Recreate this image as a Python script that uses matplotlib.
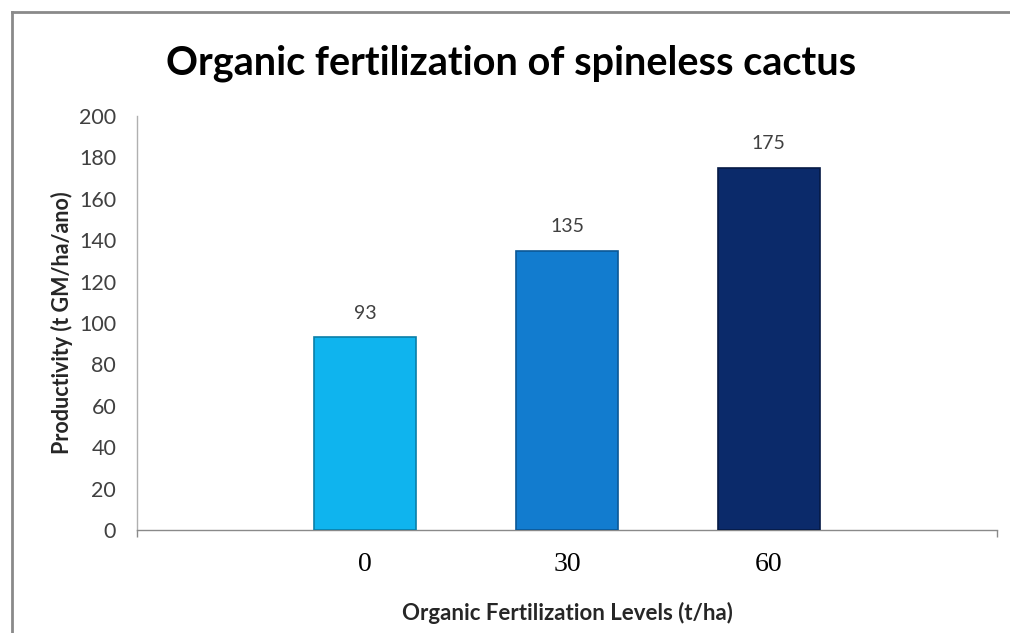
import matplotlib
matplotlib.use("Agg")
import matplotlib.pyplot as plt
from matplotlib.lines import Line2D

categories = ["0", "30", "60"]
values = [93, 135, 175]
yticks = [0, 20, 40, 60, 80, 100, 120, 140, 160, 180, 200]
title = "Organic fertilization of spineless cactus"
xlabel = "Organic Fertilization Levels (t/ha)"
ylabel = "Productivity (t GM/ha/ano)"

bar_colors = ["#0FB4EE", "#127CCF", "#0B2A6A"]
edge_colors = ["#0A7FA8", "#0B5796", "#061A45"]

W, H = 1010, 633
fig = plt.figure(figsize=(W / 100, H / 100), dpi=100)
fig.patch.set_facecolor("white")

# outer chart frame
fig.add_artist(Line2D([12 / W, 12 / W], [0, 1 - 12 / H], transform=fig.transFigure,
                      color="#8a8a8a", lw=2))
fig.add_artist(Line2D([12 / W, 1], [1 - 12 / H, 1 - 12 / H], transform=fig.transFigure,
                      color="#8a8a8a", lw=2))

ax = fig.add_axes([137 / W, 1 - 530 / H, (997 - 137) / W, (530 - 116) / H])
x = list(range(len(categories)))
ax.bar(x, values, width=0.505, color=bar_colors, edgecolor=edge_colors, linewidth=1.2, zorder=3)

ax.set_xlim(-1.13, 3.13)
ax.set_ylim(0, 200)
ax.set_yticks(yticks)
ax.set_yticklabels([str(t) for t in yticks], fontfamily="Lato", fontsize=15.5, color="#404040")
ax.tick_params(axis="y", length=0, pad=15)

ax.set_xticks(x)
ax.set_xticklabels(categories, fontfamily="Liberation Serif", fontsize=20, color="black")
ax.tick_params(axis="x", length=0, pad=16)
ax.set_xticks([-1.13, 3.13], minor=True)
ax.tick_params(axis="x", which="minor", length=5, direction="out", color="#8a8a8a", width=1)

for s in ["top", "right"]:
    ax.spines[s].set_visible(False)
ax.spines["left"].set_color("#b0b0b0")
ax.spines["bottom"].set_color("#8a8a8a")
ax.spines["left"].set_linewidth(1)
ax.spines["bottom"].set_linewidth(1)

for xi, v in zip(x, values):
    ax.annotate(str(v), (xi, v), xytext=(0, 11), textcoords="offset points",
                ha="center", va="bottom", fontfamily="Lato", fontsize=14, color="#404040")

ax.set_xlabel(xlabel, fontfamily="Lato", fontweight="bold", fontsize=16, color="#262626", labelpad=18)
ax.set_ylabel(ylabel, fontfamily="Lato", fontweight="bold", fontsize=15.5, color="#262626", labelpad=4)

fig.text(511 / W, 1 - 63 / H, title, ha="center", va="center", fontfamily="Lato",
         fontweight="bold", fontsize=28.5, color="black")

fig.savefig("out.png", dpi=100)
